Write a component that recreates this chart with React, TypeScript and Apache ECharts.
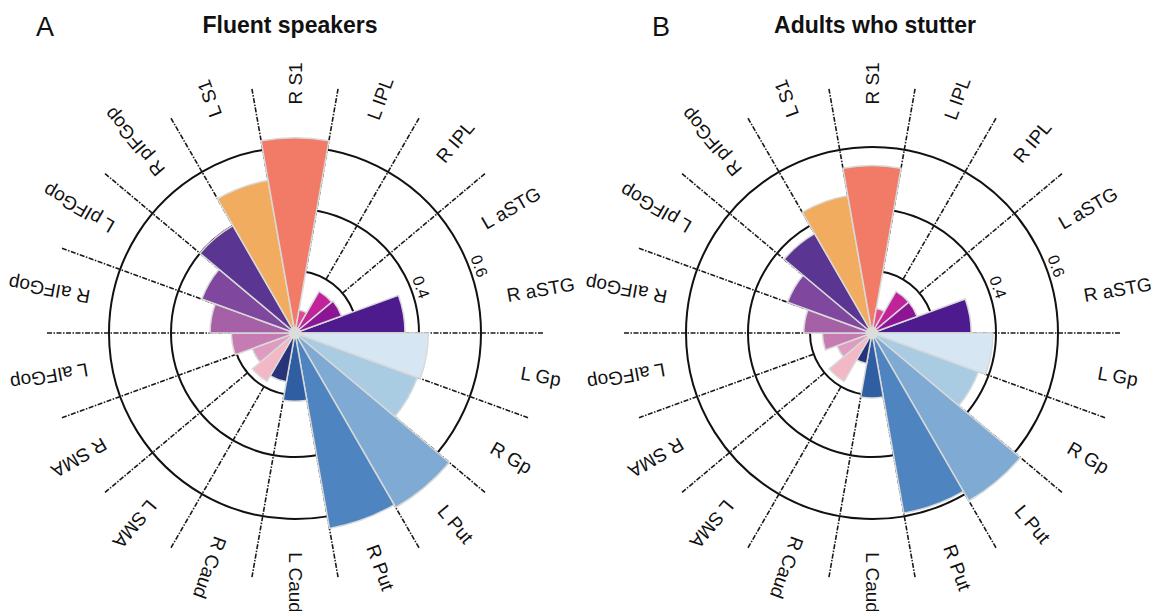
import React, { useEffect, useRef } from "react";
import * as echarts from "echarts";

// Categories in clockwise order, starting at the 20° radial axis
const categories = [
  "R aSTG", "L Gp", "R Gp", "L Put", "R Put", "L Caud", "R Caud", "L SMA", "R SMA",
  "L aIFGop", "R aIFGop", "L pIFGop", "R pIFGop", "L S1", "R S1", "L IPL", "R IPL", "L aSTG",
];

const fluentValues = [
  0.355, 0.43, 0.42, 0.65, 0.64, 0.22, 0.16, 0.18, 0.147,
  0.205, 0.274, 0.32, 0.4, 0.5, 0.63, 0.075, 0.155, 0.16,
];

const stutterValues = [
  0.32, 0.39, 0.365, 0.625, 0.59, 0.21, 0.1, 0.18, 0.12,
  0.16, 0.22, 0.29, 0.37, 0.45, 0.54, 0.08, 0.155, 0.155,
];

const barColors = [
  "#4E1B8E", "#D6E7F3", "#AACCE3", "#7FAAD3", "#4E85C1", "#305EA3", "#283479", "#F2B8C6", "#DE9DC0",
  "#C67BB3", "#A560A6", "#7F479D", "#5B3592", "#F2AC60", "#F27B68", "#E04A90", "#C0239A", "#8C1596",
];

const radiusTickValues = [0.4, 0.6];
const panelTitles = ["Fluent speakers", "Adults who stutter"];
const panelLetters = ["A", "B"];

const FONT = "'Liberation Sans', Arial, Helvetica, sans-serif";
const START_ANGLE = 20;

export default function App() {
  const ref = useRef<HTMLDivElement>(null);

  useEffect(() => {
    document.body.style.margin = "0";
    const chart = echarts.init(ref.current!, null, { renderer: "svg" });

    const centers = [
      [295, 333],
      [872, 333],
    ];
    const datasets = [fluentValues, stutterValues];

    const polar: any[] = [];
    const radiusAxis: any[] = [];
    const angleAxis: any[] = [];
    const series: any[] = [];
    const graphic: any[] = [];

    const dashColors = categories.map((_, i) => (i === 0 ? "rgba(0,0,0,0)" : "#1a1a1a"));

    centers.forEach((c, k) => {
      const pMain = polar.length;
      polar.push({ center: c, radius: [0, 248] });
      polar.push({ center: c, radius: [62, 248] });

      radiusAxis.push({
        polarIndex: pMain,
        type: "value",
        min: 0,
        max: 0.8,
        interval: 0.2,
        axisLine: { show: false },
        axisTick: { show: false },
        axisLabel: { show: false },
        splitLine: {
          show: true,
          lineStyle: {
            color: ["rgba(0,0,0,0)", "#111", "#111", "#111", "rgba(0,0,0,0)"],
            width: 2,
          },
        },
      });
      radiusAxis.push({
        polarIndex: pMain + 1,
        type: "value",
        min: 0,
        max: 1,
        show: false,
      });

      angleAxis.push({
        polarIndex: pMain,
        type: "category",
        data: categories,
        startAngle: START_ANGLE,
        clockwise: true,
        boundaryGap: true,
        axisLine: { show: false },
        axisTick: { show: false },
        axisLabel: { show: false },
        splitLine: { show: false },
      });
      angleAxis.push({
        polarIndex: pMain + 1,
        type: "category",
        data: categories,
        startAngle: START_ANGLE,
        clockwise: true,
        boundaryGap: true,
        axisLine: { show: false },
        axisTick: { show: false },
        axisLabel: { show: false },
        splitLine: {
          show: true,
          lineStyle: { color: dashColors, width: 1.6, type: [5, 1.5, 1.5, 1.5] },
        },
      });

      series.push({
        type: "bar",
        coordinateSystem: "polar",
        polarIndex: pMain,
        barCategoryGap: "0%",
        z: 3,
        data: datasets[k].map((v, i) => ({
          value: v,
          itemStyle: { color: barColors[i] },
        })),
        itemStyle: { borderColor: "#d9d9d9", borderWidth: 1.5 },
        silent: true,
      });

      // category labels, radial orientation
      series.push({
        type: "custom",
        coordinateSystem: "polar",
        polarIndex: pMain,
        silent: true,
        z: 4,
        data: categories.map((_, i) => [0.805, i]),
        renderItem: (params: any, api: any) => {
          const r = api.value(0);
          const idx = api.value(1);
          const p = api.coord([r, idx]);
          const o = api.coord([0, idx]);
          const ang = Math.atan2(o[1] - p[1], p[0] - o[0]);
          return {
            type: "text",
            x: p[0],
            y: p[1],
            rotation: ang,
            style: {
              text: categories[idx],
              fontSize: 19,
              fontFamily: FONT,
              fill: "#111",
              align: "center",
              verticalAlign: "middle",
            },
          };
        },
      });

      // radius tick labels along the 20° radial axis
      series.push({
        type: "custom",
        coordinateSystem: "polar",
        polarIndex: pMain,
        silent: true,
        z: 4,
        data: radiusTickValues.map((v) => [v, 0]),
        renderItem: (params: any, api: any) => {
          const v = api.value(0);
          const p = api.coord([v, 0]);
          const o = api.coord([0, 0]);
          const r = Math.hypot(p[0] - o[0], p[1] - o[1]) + 2;
          const a = (START_ANGLE * Math.PI) / 180;
          return {
            type: "text",
            x: o[0] + r * Math.cos(a),
            y: o[1] - r * Math.sin(a),
            rotation: a - Math.PI / 2,
            style: {
              text: v.toFixed(1),
              fontSize: 16,
              fontFamily: FONT,
              fill: "#111",
              align: "center",
              verticalAlign: "bottom",
            },
          };
        },
      });

      graphic.push({
        type: "circle",
        z: 100,
        shape: { cx: c[0], cy: c[1], r: 6 },
        style: { fill: "#dcdcdc" },
        silent: true,
      });
    });

    graphic.push(
      { type: "text", x: 36, y: 27, style: { text: panelLetters[0], font: `27px ${FONT}`, fill: "#111", align: "left", verticalAlign: "middle" } },
      { type: "text", x: 290, y: 25, style: { text: panelTitles[0], font: `bold 23px ${FONT}`, fill: "#111", align: "center", verticalAlign: "middle" } },
      { type: "text", x: 652, y: 27, style: { text: panelLetters[1], font: `27px ${FONT}`, fill: "#111", align: "left", verticalAlign: "middle" } },
      { type: "text", x: 875, y: 25, style: { text: panelTitles[1], font: `bold 23px ${FONT}`, fill: "#111", align: "center", verticalAlign: "middle" } }
    );

    chart.setOption({
      animation: false,
      backgroundColor: "#fff",
      polar,
      radiusAxis,
      angleAxis,
      series,
      graphic,
    });

    return () => chart.dispose();
  }, []);

  return (
    <div
      ref={ref}
      style={{ position: "absolute", left: 0, top: 0, width: 1156, height: 611 }}
    />
  );
}
